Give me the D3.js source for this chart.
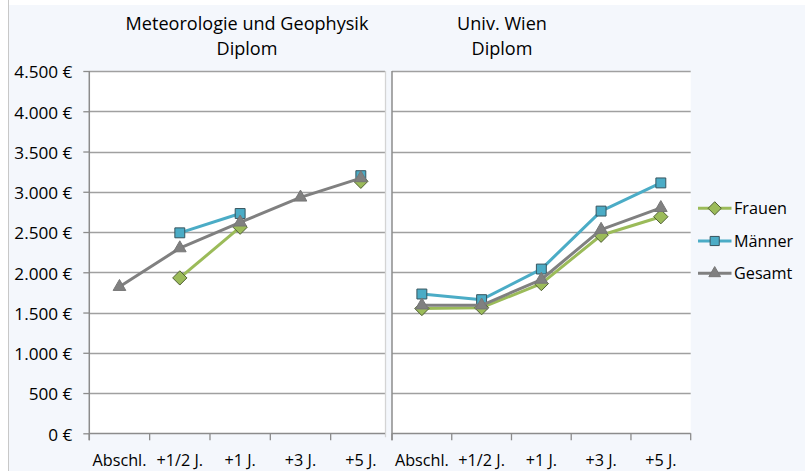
<!DOCTYPE html>
<html>
<head>
<meta charset="utf-8">
<script src="https://cdn.jsdelivr.net/npm/d3@7"></script>
<style>
  html, body { margin: 0; padding: 0; background: #ffffff; }
  svg { display: block; }
  text { font-family: "Open Sans", Lato, sans-serif; fill: #000000; }
</style>
</head>
<body>
<svg id="chart" width="805" height="471"></svg>
<script>
// ---------------- data ----------------
const categories = ["Abschl.", "+1/2 J.", "+1 J.", "+3 J.", "+5 J."];
const seriesNames = ["Frauen", "Männer", "Gesamt"];
const yTicks = [0, 500, 1000, 1500, 2000, 2500, 3000, 3500, 4000, 4500];

const meteoTitle = ["Meteorologie und Geophysik", "Diplom"];
const meteoFrauen  = [null, 1930, 2560, null, 3130];
const meteoMaenner = [null, 2490, 2730, null, 3200];
const meteoGesamt  = [1820, 2300, 2620, 2930, 3170];

const wienTitle = ["Univ. Wien", "Diplom"];
const wienFrauen  = [1550, 1560, 1860, 2460, 2690];
const wienMaenner = [1730, 1660, 2040, 2760, 3110];
const wienGesamt  = [1590, 1590, 1910, 2530, 2800];

// ---------------- styles ----------------
const colors  = { "Frauen": "#9bbb59", "Männer": "#4bacc6", "Gesamt": "#808080" };
const mstroke = { "Frauen": "#4f5e33", "Männer": "#37545e", "Gesamt": "#777777" };
const shapes  = { "Frauen": d3.symbolDiamond2, "Männer": d3.symbolSquare2, "Gesamt": d3.symbolTriangle2 };
const sizes   = { "Frauen": 130, "Männer": 125, "Gesamt": 115 };

const loc = d3.formatLocale({ decimal: ",", thousands: ".", grouping: [3], currency: ["", " €"] });
const euro = loc.format("$,.0f");

const svg = d3.select("#chart");
const W = 805, H = 471;

// font-size fitting: find size so that a sample string has a target width
function fitSize(sample, target, base) {
  const t = svg.append("text").style("font-size", base + "px").text(sample);
  const w = t.node().getComputedTextLength();
  t.remove();
  return w > 0 ? base * target / w : base;
}
const titleSize  = fitSize("Meteorologie und Geophysik", 243, 16);
const xLabSize   = fitSize("Abschl.", 54, 14);
const yLabSize   = fitSize("4.500 €", 58, 14);
const legendSize = fitSize("Frauen", 53, 14);

// background
svg.append("rect").attr("x", 0).attr("y", 0).attr("width", W).attr("height", H).attr("fill", "#ffffff");
svg.append("rect").attr("x", 9).attr("y", 5).attr("width", W - 9).attr("height", H - 5).attr("fill", "#f4f7fc");
svg.append("line").attr("x1", 8.5).attr("x2", 8.5).attr("y1", 0).attr("y2", H)
   .attr("stroke", "#c8c8c8").attr("stroke-width", 1);

const y = d3.scaleLinear().domain([0, 4500]).range([433.3, 71]);

function panel(opts) {
  const g = svg.append("g");
  const x = d3.scaleBand().domain(categories).range([opts.x0, opts.x1]).paddingInner(0).paddingOuter(0);
  const visRight = opts.clip;

  // plot area
  g.append("rect").attr("x", opts.x0).attr("y", y(4500)).attr("width", visRight - opts.x0)
    .attr("height", y(0) - y(4500)).attr("fill", "#ffffff");

  // gridlines
  g.append("g").selectAll("line").data(yTicks.filter(v => v > 0)).join("line")
    .attr("x1", opts.x0).attr("x2", visRight)
    .attr("y1", d => Math.round(y(d)) + 0.5).attr("y2", d => Math.round(y(d)) + 0.5)
    .attr("stroke", "#a0a0a0").attr("stroke-width", 1.3);

  if (opts.edgeLine) {
    g.append("line").attr("x1", visRight + 0.5).attr("x2", visRight + 0.5)
      .attr("y1", y(4500)).attr("y2", y(0) + 4)
      .attr("stroke", "#d4d4d4").attr("stroke-width", 1.3);
  }

  // y axis
  const ya = d3.axisLeft(y).tickValues(yTicks).tickFormat(opts.yLabels ? euro : "")
    .tickSize(opts.yLabels ? 6 : 0).tickPadding(11);
  const yg = g.append("g").attr("transform", `translate(${opts.x0},0)`).call(ya);
  yg.select(".domain").attr("stroke", "#8c8c8c").attr("stroke-width", 1.5).attr("d", `M0,${y(4500)}V${y(0) + 7}`);
  yg.selectAll(".tick line").attr("stroke", "#8c8c8c").attr("stroke-width", 1.3);
  yg.selectAll(".tick text").style("font-size", yLabSize + "px").attr("fill", "#000000").attr("dy", "0.40em");

  // x axis line + boundary ticks
  g.append("line").attr("x1", opts.x0).attr("x2", visRight)
    .attr("y1", Math.round(y(0)) + 0.5).attr("y2", Math.round(y(0)) + 0.5)
    .attr("stroke", "#8c8c8c").attr("stroke-width", 1.5);
  const bounds = categories.map(c => x(c)).concat([opts.x1]).filter(b => b <= visRight + 0.01);
  g.append("g").selectAll("line").data(bounds).join("line")
    .attr("x1", d => d).attr("x2", d => d)
    .attr("y1", y(0)).attr("y2", y(0) + 7)
    .attr("stroke", "#8c8c8c").attr("stroke-width", 1.3);

  // x labels
  g.append("g").selectAll("text").data(categories).join("text")
    .attr("x", d => x(d) + x.bandwidth() / 2).attr("y", 466)
    .attr("text-anchor", "middle").style("font-size", xLabSize + "px").text(d => d);

  // title
  const t = g.append("text").attr("text-anchor", "middle").style("font-size", titleSize + "px");
  opts.title.forEach((line, i) => {
    t.append("tspan").attr("x", opts.titleX).attr("y", 30 + i * 25).text(line);
  });

  // series
  const data = [
    { name: "Frauen", values: opts.frauen },
    { name: "Männer", values: opts.maenner },
    { name: "Gesamt", values: opts.gesamt }
  ];
  const cx = i => x(categories[i]) + x.bandwidth() / 2;
  const line = d3.line().defined(d => d != null).x((d, i) => cx(i)).y(d => y(d));
  data.forEach(s => {
    const sg = g.append("g");
    sg.append("path").datum(s.values).attr("d", line)
      .attr("fill", "none").attr("stroke", colors[s.name]).attr("stroke-width", 3)
      .attr("stroke-linejoin", "round");
    sg.selectAll("path.m").data(s.values.map((v, i) => ({ v, i })).filter(d => d.v != null))
      .join("path").attr("class", "m")
      .attr("transform", d => `translate(${cx(d.i)},${y(d.v)})`)
      .attr("d", d3.symbol().type(shapes[s.name]).size(sizes[s.name]))
      .attr("fill", colors[s.name]).attr("stroke", mstroke[s.name]).attr("stroke-width", 1);
  });
}

panel({ x0: 89.3, x1: 391, clip: 385, edgeLine: true, yLabels: true, titleX: 247, title: meteoTitle,
        frauen: meteoFrauen, maenner: meteoMaenner, gesamt: meteoGesamt });
panel({ x0: 392, x1: 690.7, clip: 690.7, edgeLine: false, yLabels: false, titleX: 502, title: wienTitle,
        frauen: wienFrauen, maenner: wienMaenner, gesamt: wienGesamt });

// legend
const legendY = [208.3, 241, 273.3];
const lg = svg.append("g");
seriesNames.forEach((name, i) => {
  const ly = legendY[i];
  lg.append("line").attr("x1", 698).attr("x2", 731.5).attr("y1", ly).attr("y2", ly)
    .attr("stroke", colors[name]).attr("stroke-width", 3);
  lg.append("path").attr("transform", `translate(714.7,${ly})`)
    .attr("d", d3.symbol().type(shapes[name]).size(sizes[name] * 0.85))
    .attr("fill", colors[name]).attr("stroke", mstroke[name]).attr("stroke-width", 1);
  lg.append("text").attr("x", 734).attr("y", ly).attr("dy", "0.36em")
    .style("font-size", legendSize + "px").text(name);
});
</script>
</body>
</html>
